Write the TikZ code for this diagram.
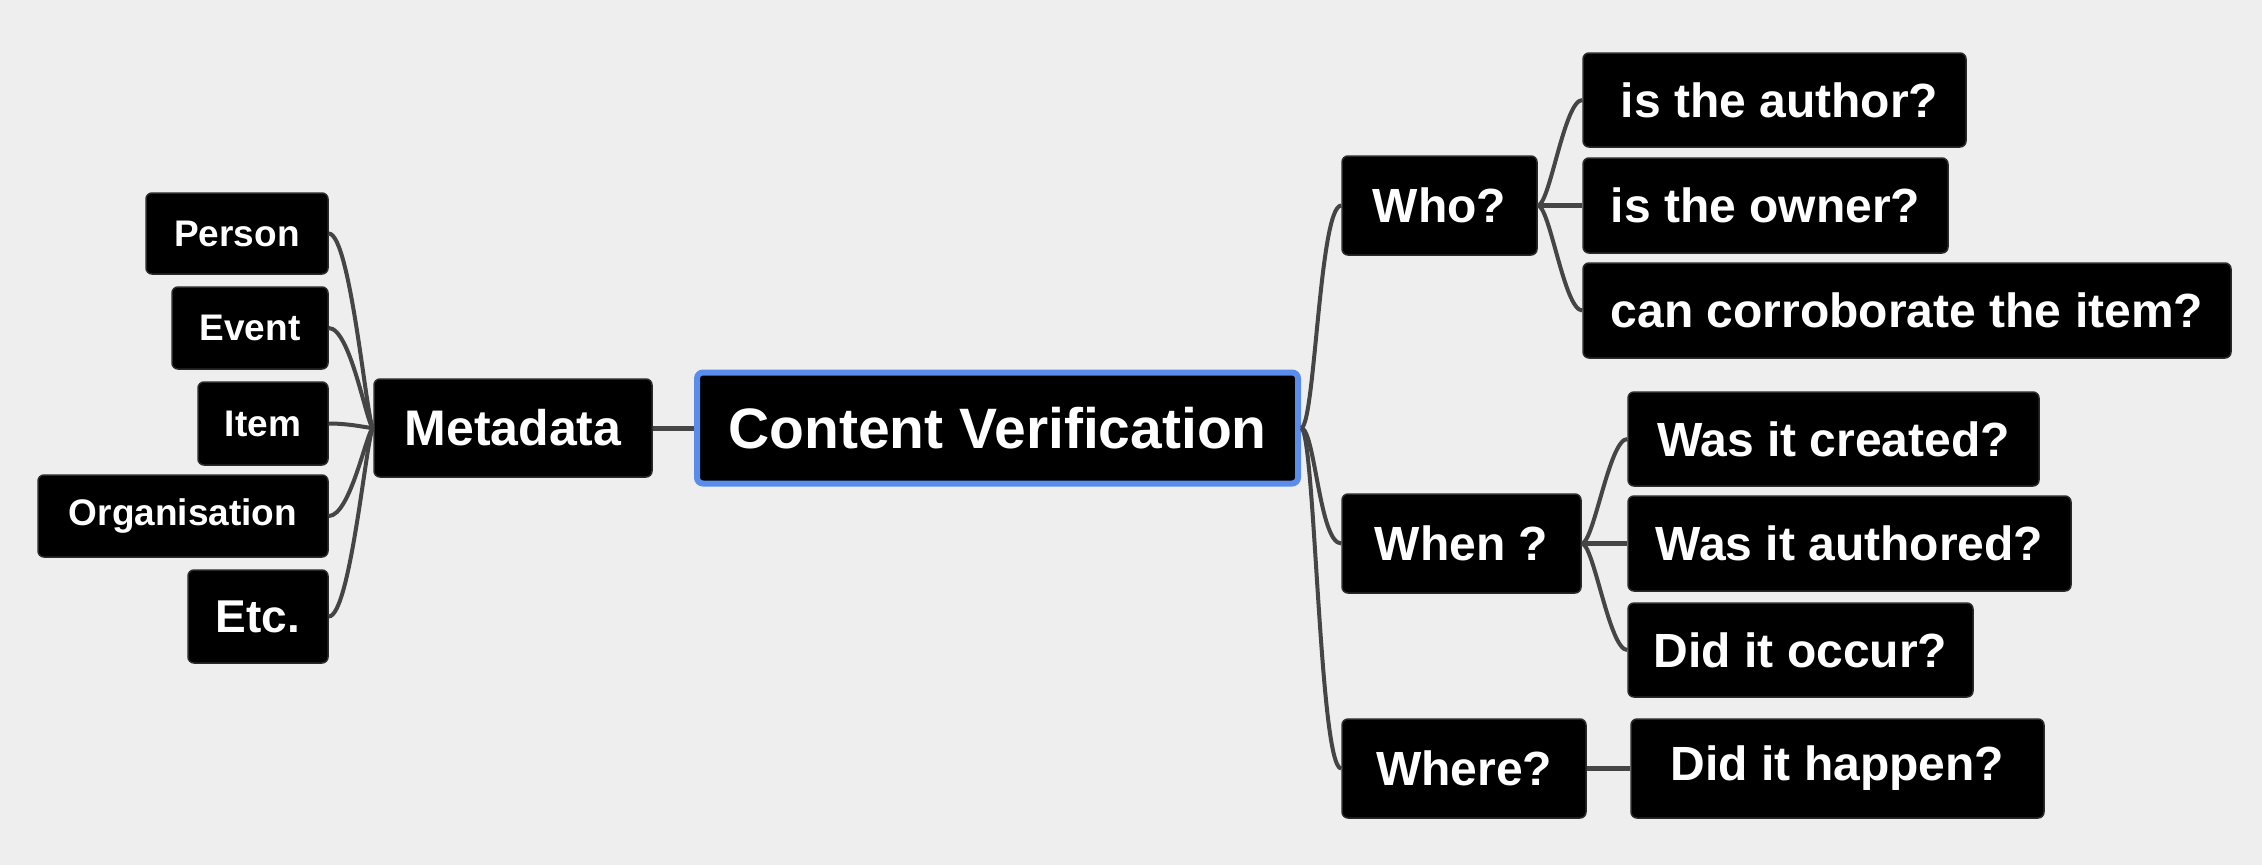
\documentclass[tikz,border=0pt]{standalone}
\usepackage{fontspec}
\setmainfont{Liberation Sans}
\definecolor{bgc}{HTML}{EEEEEE}
\definecolor{linec}{HTML}{454545}
\definecolor{bluec}{HTML}{5A8CEB}
\definecolor{boxline}{HTML}{2A2A2A}
\tikzset{
  box/.style={draw=boxline, line width=1.5pt, fill=black, rounded corners=6pt, text=white,
    font=\bfseries, inner sep=0pt, align=center},
  small/.style={box, font=\bfseries\fontsize{37}{40}\selectfont},
  mid/.style={box, font=\bfseries\fontsize{48}{52}\selectfont},
  big/.style={box, font=\bfseries\fontsize{57}{60}\selectfont},
  conn/.style={draw=linec, line width=4pt},
  wh/.style args={#1x#2}{minimum width=#1pt, minimum height=#2pt},
}
\begin{document}
\begin{tikzpicture}[x=1pt,y=-1pt]
\fill[bgc] (0,0) rectangle (2262,865);
% central
\node[big, wh=601x111, draw=bluec, line width=6pt] (cv) at (997.5,428) {Content Verification};
% left
\node[mid, wh=278x98, font=\bfseries\fontsize{50}{54}\selectfont] (meta) at (513,428) {Metadata};
\node[small, wh=182x81] (person) at (237,233.5) {Person};
\node[small, wh=156x82] (event) at (250,328) {Event};
\node[small, wh=130x83] (item) at (263,423.5) {Item};
\node[small, wh=290x82] (org) at (183,516) {Organisation};
\node[box, wh=140x93, font=\bfseries\fontsize{46}{50}\selectfont] (etc) at (258,616.5) {Etc.};
% right
\node[mid, wh=195x99] (who) at (1439.5,205.5) {Who?};
\node[mid, wh=383x94] (author) at (1774.5,100) {\hspace{10pt}is the author?};
\node[mid, wh=365x95] (owner) at (1765.5,205.5) {is the owner?};
\node[mid, wh=648x95] (corr) at (1907,310.5) {can corroborate the item?};
\node[mid, wh=239x99] (when) at (1461.5,543.5) {When ?};
\node[mid, wh=411x94] (created) at (1833.5,439) {Was it created?};
\node[mid, wh=443x95] (authored) at (1849.5,543.5) {Was it authored?};
\node[mid, wh=345x94] (occur) at (1800.5,650) {Did it occur?};
\node[mid, wh=244x99] (where) at (1464,768.5) {Where?};
\node[mid, wh=413x99] (happen) at (1837.5,768.5) {Did it happen?};
% connectors left
\draw[conn, line width=5pt] (meta.east) -- (cv.west);
\foreach \n in {person,event,item,org,etc}
  \draw[conn] (\n.east) .. controls +(22,0) and +(-6,0) .. (meta.west);
% connectors right
\foreach \n in {who,when,where}
  \draw[conn] (cv.east) .. controls +(14,0) and +(-22,0) .. (\n.west);
\foreach \n in {author,corr}
  \draw[conn] (who.east) .. controls +(12,0) and +(-18,0) .. (\n.west);
\draw[conn, line width=5pt] (who.east) -- (owner.west);
\foreach \n in {created,occur}
  \draw[conn] (when.east) .. controls +(12,0) and +(-18,0) .. (\n.west);
\draw[conn, line width=5pt] (when.east) -- (authored.west);
\draw[conn, line width=5pt] (where.east) -- (happen.west);
\end{tikzpicture}
\end{document}
